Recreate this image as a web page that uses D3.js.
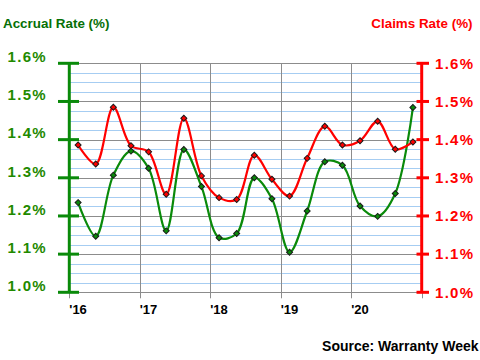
<!DOCTYPE html>
<html>
<head>
<meta charset="utf-8">
<script src="https://cdn.jsdelivr.net/npm/d3@7"></script>
<style>
  body { margin: 0; background: #fff; }
  svg { display: block; font-family: "Liberation Sans", Arial, sans-serif; }
</style>
</head>
<body>
<svg id="chart" width="480" height="360"></svg>
<script>
// ---- data ----
const quarters = ["2016Q1","2016Q2","2016Q3","2016Q4","2017Q1","2017Q2","2017Q3","2017Q4",
                  "2018Q1","2018Q2","2018Q3","2018Q4","2019Q1","2019Q2","2019Q3","2019Q4",
                  "2020Q1","2020Q2","2020Q3","2020Q4"];
const accrualRate = [1.235, 1.147, 1.307, 1.370, 1.325, 1.161, 1.374, 1.277, 1.143, 1.154,
                     1.300, 1.245, 1.105, 1.213, 1.342, 1.333, 1.226, 1.199, 1.259, 1.484];
const claimsRate  = [1.386, 1.336, 1.485, 1.384, 1.368, 1.257, 1.456, 1.305, 1.248, 1.243,
                     1.359, 1.296, 1.252, 1.351, 1.435, 1.386, 1.397, 1.448, 1.375, 1.394];
const yearLabels = ["'16", "'17", "'18", "'19", "'20"];
const rateTicks = [1.0, 1.1, 1.2, 1.3, 1.4, 1.5, 1.6];

// ---- layout ----
const svg = d3.select("#chart");
const L = 69.3, R = 421.7, T = 63.3, B = 292.3;
const green = "#0a8a0a", red = "#ff0000";

const x = d3.scaleLinear().domain([0, quarters.length]).range([L, R]);
const y = d3.scaleLinear().domain([1.0, 1.6]).range([B, T]);
const yearTicks = d3.range(0, quarters.length + 1, 4);

// minor gridlines
const minor = d3.range(0, 25).map(k => 1.0 + k * 0.025).filter(v => Math.round(v * 1000) % 100 !== 0);
svg.append("g").selectAll("line").data(minor).join("line")
  .attr("x1", L).attr("x2", R)
  .attr("y1", d => Math.round(y(d)) + 0.5).attr("y2", d => Math.round(y(d)) + 0.5)
  .attr("stroke", "#a6cdf2").attr("stroke-width", 1);

// major gridlines
svg.append("g").selectAll("line").data(rateTicks).join("line")
  .attr("x1", L).attr("x2", R)
  .attr("y1", d => Math.round(y(d)) + 0.5).attr("y2", d => Math.round(y(d)) + 0.5)
  .attr("stroke", "#8c8c8c").attr("stroke-width", 1);

// vertical gridlines + x ticks
svg.append("g").selectAll("line").data(yearTicks).join("line")
  .attr("x1", d => Math.round(x(d)) + 0.5).attr("x2", d => Math.round(x(d)) + 0.5)
  .attr("y1", T).attr("y2", B + 6)
  .attr("stroke", "#8c8c8c").attr("stroke-width", 1);

// x labels
svg.append("g").selectAll("text").data(yearTicks.slice(0, yearLabels.length)).join("text")
  .attr("x", d => x(d)).attr("y", 314)
  .attr("font-size", 13).attr("font-weight", "bold").attr("fill", "#000")
  .text((d, i) => yearLabels[i]);

// left axis
svg.append("line").attr("x1", L).attr("x2", L).attr("y1", T).attr("y2", B)
  .attr("stroke", green).attr("stroke-width", 3);
svg.append("g").selectAll("line").data(rateTicks).join("line")
  .attr("x1", 58).attr("x2", 79).attr("y1", d => y(d)).attr("y2", d => y(d))
  .attr("stroke", green).attr("stroke-width", 3);
svg.append("g").selectAll("text").data(rateTicks).join("text")
  .attr("x", 47).attr("y", d => y(d) - 1.3).attr("text-anchor", "end")
  .attr("font-size", 15).attr("font-weight", "bold").attr("letter-spacing", 1.3)
  .attr("fill", "#1f8a00")
  .text(d => d.toFixed(1) + "%");

// right axis
svg.append("line").attr("x1", R).attr("x2", R).attr("y1", T).attr("y2", B)
  .attr("stroke", red).attr("stroke-width", 3);
svg.append("g").selectAll("line").data(rateTicks).join("line")
  .attr("x1", 416.5).attr("x2", 429).attr("y1", d => y(d)).attr("y2", d => y(d))
  .attr("stroke", red).attr("stroke-width", 3);
svg.append("g").selectAll("text").data(rateTicks).join("text")
  .attr("x", 435).attr("y", d => y(d) + 5.3)
  .attr("font-size", 15).attr("font-weight", "bold").attr("letter-spacing", 1.3)
  .attr("fill", red)
  .text(d => d.toFixed(1) + "%");

// titles
svg.append("text").attr("x", 3).attr("y", 28.3)
  .attr("font-size", 13.4).attr("font-weight", "bold").attr("fill", "#067006")
  .text("Accrual Rate (%)");
svg.append("text").attr("x", 472.5).attr("y", 28.3).attr("text-anchor", "end")
  .attr("font-size", 13.4).attr("font-weight", "bold").attr("fill", red)
  .text("Claims Rate (%)");
svg.append("text").attr("x", 478.5).attr("y", 351).attr("text-anchor", "end")
  .attr("font-size", 14).attr("font-weight", "bold").attr("fill", "#000")
  .text("Source: Warranty Week");

// series
const line = d3.line()
  .x((d, i) => x(i + 0.5))
  .y(d => y(d))
  .curve(d3.curveCatmullRom.alpha(0.5));

const diamond = d3.symbol().type(d3.symbolSquare).size(18);

function drawSeries(vals, color) {
  svg.append("path").datum(vals)
    .attr("d", line).attr("fill", "none")
    .attr("stroke", color).attr("stroke-width", 2.2);
  svg.append("g").selectAll("path").data(vals).join("path")
    .attr("d", diamond)
    .attr("transform", (d, i) => `translate(${x(i + 0.5)},${y(d)}) rotate(45)`)
    .attr("fill", color).attr("stroke", "#1a1a1a").attr("stroke-width", 1);
}
drawSeries(accrualRate, green);
drawSeries(claimsRate, red);
</script>
</body>
</html>
